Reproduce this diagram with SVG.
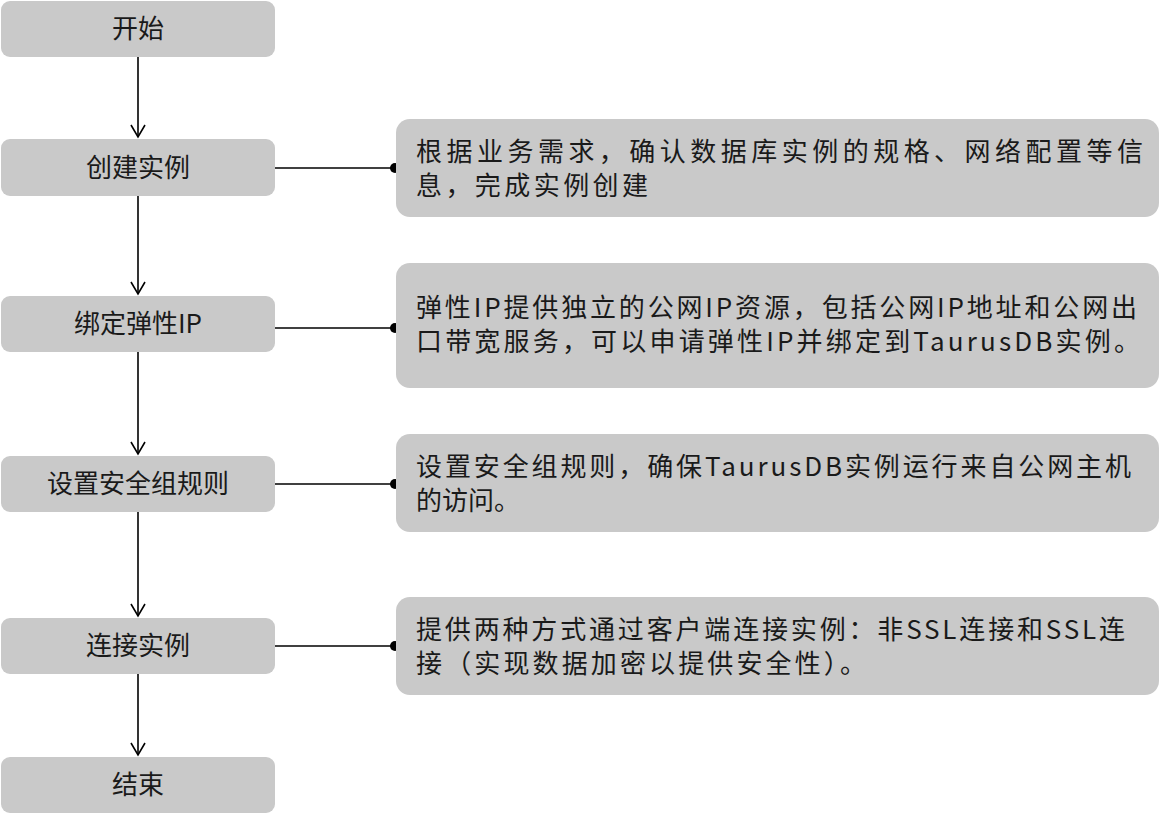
<svg xmlns="http://www.w3.org/2000/svg" width="1161" height="815" viewBox="0 0 1161 815">
<style>
.n{fill:#c9c9c9}
.d{fill:#c9c9c9}
text{font-family:"Noto Sans CJK SC","Noto Sans",sans-serif;fill:#1a1a1a}
.t{font-size:26px;text-anchor:middle}
.r{font-size:26px}
.c{stroke:#000;stroke-width:1.6;fill:none}
</style>
<defs><marker id="a" markerWidth="16" markerHeight="16" refX="13" refY="8" orient="auto" markerUnits="userSpaceOnUse"><path d="M1,1 L13,8 L1,15" fill="none" stroke="#000" stroke-width="1.6"/></marker></defs>
<g id="connectors">
<path class="c" d="M138,57 V137" marker-end="url(#a)"/>
<path class="c" d="M138,196 V294" marker-end="url(#a)"/>
<path class="c" d="M138,352 V454" marker-end="url(#a)"/>
<path class="c" d="M138,512 V616" marker-end="url(#a)"/>
<path class="c" d="M138,674 V755" marker-end="url(#a)"/>
<path class="c" d="M275,168 H395"/><circle cx="395" cy="168" r="5"/>
<path class="c" d="M275,328 H395"/><circle cx="395" cy="328" r="5"/>
<path class="c" d="M275,484 H395"/><circle cx="395" cy="484" r="5"/>
<path class="c" d="M275,646 H395"/><circle cx="395" cy="646" r="5"/>
</g>
<g id="n1"><rect class="n" x="1" y="1" width="274" height="56" rx="9"/><text class="t" x="138" y="38">开始</text></g>
<g id="n2"><rect class="n" x="1" y="139" width="274" height="57" rx="9"/><text class="t" x="138" y="177">创建实例</text></g>
<g id="n3"><rect class="n" x="1" y="296" width="274" height="56" rx="9"/><text class="t" x="138" y="333">绑定弹性IP</text></g>
<g id="n4"><rect class="n" x="1" y="456" width="274" height="56" rx="9"/><text class="t" x="138" y="493">设置安全组规则</text></g>
<g id="n5"><rect class="n" x="1" y="618" width="274" height="56" rx="9"/><text class="t" x="138" y="655">连接实例</text></g>
<g id="n6"><rect class="n" x="1" y="757" width="274" height="56" rx="9"/><text class="t" x="138" y="794">结束</text></g>
<g id="d1"><rect class="d" x="396" y="119" width="763" height="98" rx="14"/><text class="r" x="416" y="161" textLength="727" lengthAdjust="spacing">根据业务需求，确认数据库实例的规格、网络配置等信</text><text class="r" x="416" y="195" textLength="232" lengthAdjust="spacing">息，完成实例创建</text></g>
<g id="d2"><rect class="d" x="396" y="263" width="763" height="125" rx="14"/><text class="r" x="416" y="317" textLength="721" lengthAdjust="spacing">弹性IP提供独立的公网IP资源，包括公网IP地址和公网出</text><text class="r" x="416" y="351" textLength="724" lengthAdjust="spacing">口带宽服务，可以申请弹性IP并绑定到TaurusDB实例。</text></g>
<g id="d3"><rect class="d" x="396" y="434" width="763" height="98" rx="14"/><text class="r" x="416" y="476" textLength="715" lengthAdjust="spacing">设置安全组规则，确保TaurusDB实例运行来自公网主机</text><text class="r" x="416" y="510" textLength="104" lengthAdjust="spacing">的访问。</text></g>
<g id="d4"><rect class="d" x="396" y="597" width="763" height="98" rx="14"/><text class="r" x="416" y="639" textLength="709" lengthAdjust="spacing">提供两种方式通过客户端连接实例：非SSL连接和SSL连</text><text class="r" x="416" y="673" textLength="450" lengthAdjust="spacing">接（实现数据加密以提供安全性）。</text></g>
</svg>
